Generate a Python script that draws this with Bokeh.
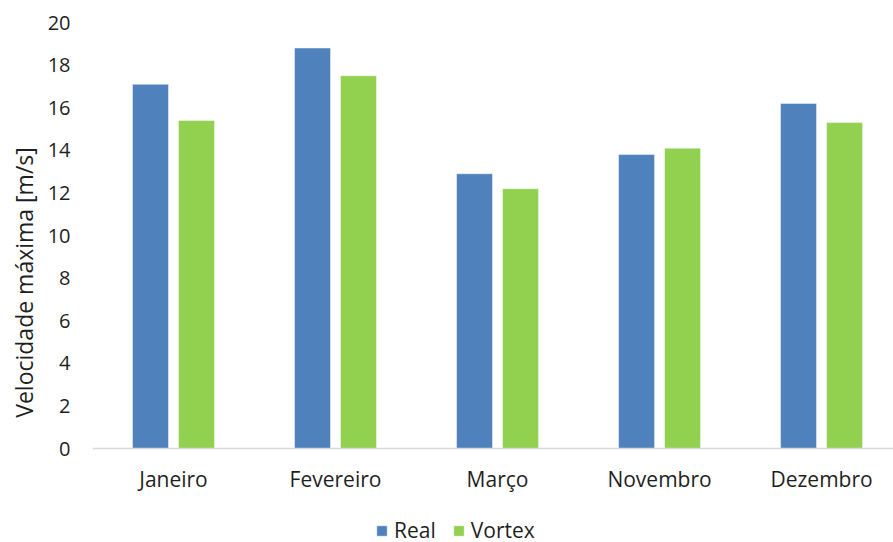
from bokeh.plotting import figure
from bokeh.models import ColumnDataSource, Range1d, FixedTicker, Legend, LegendItem, Title
from bokeh.embed import file_html
from bokeh.resources import INLINE

# Monthly maximum wind speed: measured vs. Vortex model
months = ["Janeiro", "Fevereiro", "Março", "Novembro", "Dezembro"]
real = [17.1, 18.8, 12.9, 13.8, 16.2]
vortex = [15.4, 17.5, 12.2, 14.1, 15.3]
y_ticks = [0, 2, 4, 6, 8, 10, 12, 14, 16, 18, 20]

FONT = "Open Sans"
TEXT = "#1f1f1f"
BLUE = "#4F81BD"
GREEN = "#92D050"

idx = list(range(len(months)))
offset = 0.142
bar_w = 0.222

src_real = ColumnDataSource(dict(x=[i - offset for i in idx], top=real))
src_vortex = ColumnDataSource(dict(x=[i + offset for i in idx], top=vortex))

# the frame runs down to the bottom edge so the legend can sit under the
# category labels; the category axis is pinned at y = 0
p = figure(
    frame_width=801, frame_height=520,
    x_range=Range1d(-0.5, 4.444), y_range=Range1d(-4.413, 20),
    output_backend="svg", toolbar_location=None,
    min_border_left=92, min_border_right=0,
    min_border_top=22, min_border_bottom=0,
    outline_line_color=None,
)

r1 = p.vbar(x="x", top="top", width=bar_w, source=src_real,
            fill_color=BLUE, line_color="white", line_alpha=0.45, line_width=1)
r2 = p.vbar(x="x", top="top", width=bar_w, source=src_vortex,
            fill_color=GREEN, line_color="white", line_alpha=0.45, line_width=1)

p.xgrid.visible = False
p.ygrid.visible = False

# value axis
ya = p.yaxis[0]
ya.ticker = FixedTicker(ticks=y_ticks)
ya.axis_line_color = None
ya.major_tick_line_color = None
ya.minor_tick_line_color = None
ya.major_tick_out = 0
ya.major_tick_in = 0
ya.major_label_standoff = 22
ya.major_label_text_font = FONT
ya.major_label_text_font_size = "20px"
ya.major_label_text_color = TEXT

# value axis title, centred on the 0-20 span
p.add_layout(Title(text="Velocidade máxima [m/s]", align="center", offset=46,
                   text_font=FONT, text_font_size="23px",
                   text_font_style="normal", text_color=TEXT), "left")

# category axis
xa = p.xaxis[0]
xa.fixed_location = 0
xa.ticker = FixedTicker(ticks=idx)
xa.major_label_overrides = {i: m for i, m in zip(idx, months)}
xa.axis_line_color = "#D9D9D9"
xa.axis_line_width = 1.5
xa.major_tick_line_color = None
xa.minor_tick_line_color = None
xa.major_tick_out = 0
xa.major_tick_in = 0
xa.major_label_standoff = 16
xa.major_label_text_font = FONT
xa.major_label_text_font_size = "21px"
xa.major_label_text_color = TEXT

legend = Legend(
    items=[LegendItem(label="Real", renderers=[r1]),
           LegendItem(label="Vortex", renderers=[r2])],
    orientation="horizontal", location=(283, -2),
    border_line_color=None, background_fill_alpha=0,
    glyph_width=13, glyph_height=13, label_standoff=6, spacing=16,
    label_text_font=FONT, label_text_font_size="21px", label_text_color=TEXT,
    margin=0, padding=0,
)
p.add_layout(legend, "center")

open("out.html", "w").write(file_html(p, INLINE))
